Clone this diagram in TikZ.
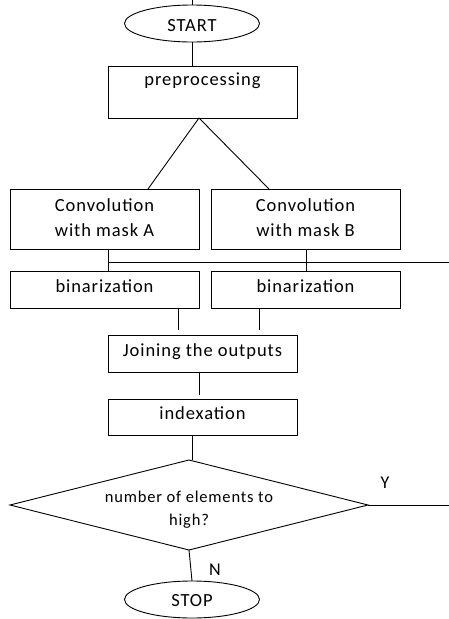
\documentclass[tikz,border=0pt]{standalone}
\usepackage{fontspec}
\setmainfont[LetterSpace=5]{Carlito}
\usetikzlibrary{shapes.geometric}
\begin{document}
\begin{tikzpicture}[x=1pt,y=-1pt,
  every node/.style={font=\fontsize{18.5}{25}\selectfont, inner sep=0pt, outer sep=0pt},
  box/.style={draw, line width=0.9pt, rectangle, minimum width=189pt, align=center, text depth=7pt},
  term/.style={draw, ellipse, line width=0.9pt, minimum width=135pt, minimum height=37pt},
  decision/.style={draw, diamond, line width=0.9pt, minimum width=358pt, minimum height=90pt},
  link/.style={line width=0.9pt},
  tag/.style={font=\fontsize{18}{22}\selectfont}]
\useasboundingbox (0,0) rectangle (449,619);

% terminals
\node[term, text height=15pt, text depth=0pt] (start) at (192,23.5) {START};
\node[term, text height=14pt, text depth=0pt] (stop) at (192,599.5) {STOP};

% process boxes
\node[box, minimum height=52pt, text depth=26pt] (pre) at (202.5,92) {preprocessing};
\node[box, minimum height=60pt, text depth=3pt] (convA) at (104.5,219) {Convolution\\with mask A};
\node[box, minimum height=60pt, text depth=3pt] (convB) at (305.5,219) {Convolution\\with mask B};
\node[box, minimum height=37pt] (binA) at (104.5,289.5) {binarization};
\node[box, minimum height=37pt] (binB) at (305.5,289.5) {binarization};
\node[box, minimum height=37.5pt] (join) at (202.5,354) {Joining the outputs};
\node[box, minimum height=36pt] (index) at (202.5,417) {indexation};

% decision
\node[decision] (dec) at (189,505) {};
\node[font=\fontsize{16.5}{23}\selectfont, align=center] (dectext) at (189,509.5) {number of elements to\\high?};

% free ends
\coordinate (top) at (192,0);
\coordinate (busend) at (449,262.7);
\coordinate (yesend) at (449,505);

% connectors
\draw[link] (start.north) -- (top);
\draw[link] (start.south) -- (start.south |- pre.north);
\coordinate (apex) at ([xshift=-3.5pt]pre.south);
\draw[link] (apex) -- ([xshift=43.5pt]convA.north);
\draw[link] (apex) -- ([xshift=-36.5pt]convB.north);
\draw[link] ([xshift=3.5pt]convA.south) -- ([xshift=3.5pt]binA.north);
\draw[link] ([xshift=0.5pt]convB.south) -- ([xshift=0.5pt]binB.north);
\coordinate (bus) at ([xshift=3.5pt]convA.south |- busend);
\draw[link] (bus) -- (busend);
\draw[link, shorten >=5pt] ([xshift=73.5pt]binA.south) -- ([xshift=73.5pt]binA.south |- join.north);
\draw[link, shorten >=5pt] ([xshift=-46.5pt]binB.south) -- ([xshift=-46.5pt]binB.south |- join.north);
\draw[link, shorten >=4pt] ([xshift=-3.5pt]join.south) -- ([xshift=-3.5pt]join.south |- index.north);
\draw[link] ([xshift=-10.5pt]index.south) -- ([xshift=-10.5pt]index.south |- dec.north);
\draw[link] (dec.east) -- (yesend);
\draw[link] (dec.south) -- (stop.north);

% branch labels
\node[tag] (ylabel) at (385,483) {Y};
\node[tag] (nlabel) at (215,570) {N};
\end{tikzpicture}
\end{document}
